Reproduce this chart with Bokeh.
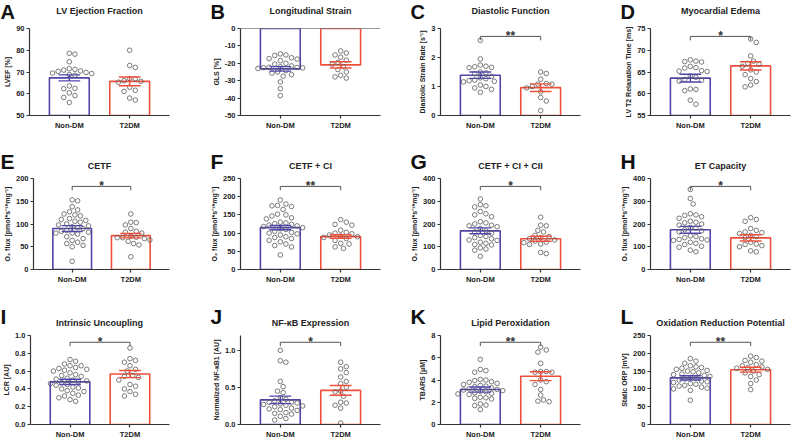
import numpy as np
from bokeh.plotting import figure
from bokeh.layouts import column, row
from bokeh.models import FixedTicker, Range1d, Label, Span
from bokeh.embed import file_html
from bokeh.resources import INLINE

FONT = "Liberation Sans"
categories = ["Non-DM", "T2DM"]
group_colors = ["#4f46a8", "#ef4f3a"]

# ---------------- data ----------------
# A  LV Ejection Fraction
lvef_nondm = [78.6, 78.2, 74.7, 71.5, 71.2, 70.9, 70.5, 70.3, 69.8, 69.5, 69.3, 68.8, 68.5,
              63.6, 62.5, 62.3, 60.4, 59.2, 58.3, 56.0]
lvef_t2dm = [80.0, 73.0, 72.1, 67.0, 66.9, 66.0, 65.7, 65.3, 63.0, 61.6, 61.1, 58.0, 57.1]
lvef_mean = [67.3, 65.7]
lvef_sem = [1.4, 2.0]

# B  Longitudinal Strain
gls_nondm = [-14.6, -15.2, -15.5, -16.8, -17.3, -17.6, -18.5, -20.0, -20.4, -21.5, -22.0, -22.3,
             -22.4, -22.5, -22.6, -23.0, -24.2, -25.0, -25.6, -26.5, -27.4, -30.7, -34.6, -38.6]
gls_t2dm = [-12.9, -14.1, -15.2, -16.5, -18.2, -19.5, -20.5, -22.0, -23.6, -25.0, -26.9, -27.8, -28.5]
gls_mean = [-23.2, -20.9]
gls_sem = [1.3, 1.8]

# C  Diastolic Function
dsr_nondm = [2.59, 1.95, 1.74, 1.70, 1.68, 1.66, 1.65, 1.50, 1.47, 1.44, 1.35, 1.30, 1.27, 1.22,
             1.20, 1.18, 1.16, 1.05, 1.00, 0.95, 0.90, 0.80]
dsr_t2dm = [1.50, 1.45, 1.25, 1.10, 1.08, 1.08, 1.00, 0.95, 0.82, 0.62, 0.50, 0.17]
dsr_mean = [1.39, 0.96]
dsr_sem = [0.11, 0.13]

# D  Myocardial Edema
t2_nondm = [67.8, 67.5, 67.4, 67.3, 66.3, 66.0, 65.9, 65.3, 65.2, 65.1, 64.1, 63.8, 63.3, 63.1,
            62.9, 61.1, 61.0, 60.7, 58.5, 57.6]
t2_t2dm = [72.6, 71.8, 68.7, 67.5, 67.0, 66.8, 66.3, 65.5, 65.0, 64.4, 63.5, 62.8, 62.0, 61.6]
t2_mean = [63.6, 66.4]
t2_sem = [0.9, 0.95]

# E  CETF
cetf_nondm = [153, 151, 138, 131, 127, 122, 120, 118, 112, 110, 108, 106, 104, 100, 98, 96, 94,
              92, 90, 86, 84, 82, 80, 80, 78, 72, 68, 64, 60, 57, 53, 50, 18]
cetf_t2dm = [122, 104, 103, 98, 90, 84, 82, 80, 73, 71, 70, 70, 68, 65, 62, 57, 54, 28]
cetf_mean = [90.0, 74.5]
cetf_sem = [6.5, 5.0]

# F  CETF + CI
ci_nondm = [191, 180, 176, 175, 173, 165, 152, 150, 147, 142, 139, 130, 128, 126, 124, 122, 120,
            118, 115, 112, 110, 105, 102, 100, 98, 95, 90, 88, 85, 80, 76, 70, 66, 62, 40]
ci_t2dm = [137, 130, 124, 122, 108, 102, 100, 98, 95, 92, 90, 88, 85, 80, 72, 70, 62, 58]
ci_mean = [115.0, 90.4]
ci_sem = [6.0, 5.0]

# G  CETF + CI + CII
cii_nondm = [310, 285, 280, 275, 255, 245, 240, 232, 210, 205, 200, 195, 192, 188, 180, 170, 165,
             160, 150, 145, 140, 135, 130, 128, 120, 115, 110, 108, 95, 90, 85, 58]
cii_t2dm = [230, 195, 192, 172, 165, 150, 145, 140, 135, 130, 125, 120, 118, 112, 110, 75, 70]
cii_mean = [170.0, 135.0]
cii_sem = [13.0, 11.0]

# H  ET Capacity
et_nondm = [352, 312, 288, 245, 240, 238, 232, 225, 212, 208, 205, 200, 195, 185, 182, 175, 170,
            165, 148, 145, 140, 135, 132, 130, 128, 120, 115, 110, 102, 98, 85, 78]
et_t2dm = [228, 220, 212, 180, 172, 165, 162, 158, 150, 145, 140, 120, 112, 110, 105, 100, 82, 78]
et_mean = [174.5, 139.0]
et_sem = [15.0, 14.0]

# I  Intrinsic Uncoupling
lcr_nondm = [0.73, 0.71, 0.68, 0.66, 0.66, 0.64, 0.63, 0.62, 0.61, 0.60, 0.58, 0.56, 0.55, 0.54,
             0.52, 0.51, 0.50, 0.49, 0.48, 0.47, 0.46, 0.45, 0.44, 0.42, 0.41, 0.40, 0.38, 0.37,
             0.35, 0.33, 0.32, 0.30, 0.28, 0.26]
lcr_t2dm = [0.86, 0.74, 0.72, 0.70, 0.66, 0.62, 0.60, 0.55, 0.54, 0.53, 0.50, 0.45, 0.43, 0.40,
            0.37, 0.34, 0.32]
lcr_mean = [0.479, 0.567]
lcr_sem = [0.03, 0.04]

# J  NF-kB Expression
nfkb_nondm = [1.00, 0.86, 0.84, 0.58, 0.51, 0.45, 0.43, 0.36, 0.34, 0.32, 0.30, 0.30, 0.29, 0.28,
              0.27, 0.26, 0.25, 0.24, 0.22, 0.21, 0.20, 0.19, 0.16, 0.15, 0.14, 0.11, 0.08, 0.06]
nfkb_t2dm = [0.84, 0.78, 0.75, 0.70, 0.64, 0.58, 0.55, 0.50, 0.45, 0.44, 0.38, 0.30, 0.29, 0.26,
             0.22, 0.02]
nfkb_mean = [0.332, 0.46]
nfkb_sem = [0.05, 0.065]

# K  Lipid Peroxidation
tbars_nondm = [5.85, 4.95, 4.85, 4.70, 4.05, 4.00, 3.95, 3.85, 3.80, 3.70, 3.60, 3.50, 3.45, 3.40,
               3.30, 3.20, 3.15, 3.10, 3.05, 3.00, 2.95, 2.85, 2.80, 2.75, 2.70, 2.45, 2.40, 2.35,
               2.30, 1.85, 1.75, 1.70, 1.35]
tbars_t2dm = [6.95, 6.70, 6.50, 5.50, 4.75, 4.75, 4.70, 4.70, 4.00, 3.85, 3.60, 3.15, 2.65, 2.20,
              2.10, 2.05]
tbars_mean = [3.14, 4.34]
tbars_sem = [0.23, 0.40]

# L  Oxidation Reduction Potential
orp_nondm = [185, 178, 172, 165, 162, 160, 158, 155, 152, 150, 148, 145, 142, 140, 138, 135, 132,
             130, 128, 125, 122, 120, 118, 115, 113, 110, 108, 105, 102, 100, 96, 68]
orp_t2dm = [192, 188, 180, 178, 175, 168, 165, 162, 160, 158, 155, 150, 145, 140, 135, 125, 115, 98]
orp_mean = [131.0, 154.0]
orp_sem = [6.0, 7.0]

O2 = "O\u2082 flux [pmol*s\u207b\u00b9*mg\u207b\u00b9]"
panels = [
    dict(letter="A", title="LV Ejection Fraction", ylabel="LVEF [%]", yr=(50, 90),
         ticks=[50, 60, 70, 80, 90], fmt="{:.0f}", groups=[lvef_nondm, lvef_t2dm],
         mean=lvef_mean, sem=lvef_sem, stars=None),
    dict(letter="B", title="Longitudinal Strain", ylabel="GLS [%]", yr=(-50, 0),
         ticks=[-50, -40, -30, -20, -10, 0], fmt="{:.0f}", groups=[gls_nondm, gls_t2dm],
         mean=gls_mean, sem=gls_sem, stars=None),
    dict(letter="C", title="Diastolic Function", ylabel="Diastolic Strain Rate [s\u207b\u00b9]",
         yr=(0, 3), ticks=[0, 1, 2, 3], fmt="{:.0f}", groups=[dsr_nondm, dsr_t2dm],
         mean=dsr_mean, sem=dsr_sem, stars="**"),
    dict(letter="D", title="Myocardial Edema", ylabel="LV T2 Relaxation Time [ms]", yr=(55, 75),
         ticks=[55, 60, 65, 70, 75], fmt="{:.0f}", groups=[t2_nondm, t2_t2dm],
         mean=t2_mean, sem=t2_sem, stars="*"),
    dict(letter="E", title="CETF", ylabel=O2, yr=(0, 200), ticks=[0, 50, 100, 150, 200],
         fmt="{:.0f}", groups=[cetf_nondm, cetf_t2dm], mean=cetf_mean, sem=cetf_sem, stars="*"),
    dict(letter="F", title="CETF + CI", ylabel=O2, yr=(0, 250), ticks=[0, 50, 100, 150, 200, 250],
         fmt="{:.0f}", groups=[ci_nondm, ci_t2dm], mean=ci_mean, sem=ci_sem, stars="**"),
    dict(letter="G", title="CETF + CI + CII", ylabel=O2, yr=(0, 400), ticks=[0, 100, 200, 300, 400],
         fmt="{:.0f}", groups=[cii_nondm, cii_t2dm], mean=cii_mean, sem=cii_sem, stars="*"),
    dict(letter="H", title="ET Capacity", ylabel=O2, yr=(0, 400), ticks=[0, 100, 200, 300, 400],
         fmt="{:.0f}", groups=[et_nondm, et_t2dm], mean=et_mean, sem=et_sem, stars="*"),
    dict(letter="I", title="Intrinsic Uncoupling", ylabel="LCR [AU]", yr=(0, 1.0),
         ticks=[0, 0.2, 0.4, 0.6, 0.8, 1.0], fmt="{:.1f}", groups=[lcr_nondm, lcr_t2dm],
         mean=lcr_mean, sem=lcr_sem, stars="*"),
    dict(letter="J", title="NF-\u03baB Expression", ylabel="Normalized NF-\u03baB1 [AU]", yr=(0, 1.2),
         ticks=[0, 0.5, 1.0], fmt="{:.1f}", groups=[nfkb_nondm, nfkb_t2dm],
         mean=nfkb_mean, sem=nfkb_sem, stars="*"),
    dict(letter="K", title="Lipid Peroxidation", ylabel="TBARS [\u03bcM]", yr=(0, 8),
         ticks=[0, 2, 4, 6, 8], fmt="{:.0f}", groups=[tbars_nondm, tbars_t2dm],
         mean=tbars_mean, sem=tbars_sem, stars="**"),
    dict(letter="L", title="Oxidation Reduction Potential", ylabel="Static ORP [mV]", yr=(0, 250),
         ticks=[0, 50, 100, 150, 200, 250], fmt="{:.0f}", groups=[orp_nondm, orp_t2dm],
         mean=orp_mean, sem=orp_sem, stars="**"),
]

# ---------------- layout ----------------
FW = 140
COLS = [(197, 29, 28), (198, 43, 15), (198, 45, 13), (199, 57, 2)]   # width, left, right
# header height, frame height, body bottom border
ROWS = [(23, 88, 16), (41, 92, 16), (44, 92, 14)]
BODY_T = 5
LETTER_FS = ["20px", "21px", "21px"]
LETTER_UP = [11.5, 12, 14.5]  # letter centre above header bottom
TITLE_UP = [13, 8, 8]         # title centre above header bottom
BRACKET_DN = [8, 8, 7]        # bracket distance below frame top (px)
XR = (0.34, 2.66)
BAR_W = 0.66
CAP = 0.18


def swarm(vals, ppu_x, ppu_y, diam=5.6, step=2.8):
    """Deterministic beeswarm offsets (data units) so circles don't overlap."""
    vals = np.asarray(vals, dtype=float)
    order = np.argsort(-vals, kind="stable")
    placed = []
    offs = np.zeros(len(vals))
    cands = [0.0]
    for j in range(1, 40):
        cands += [j * step, -j * step]
    for i in order:
        py = vals[i] * ppu_y
        for c in cands:
            if all((c - qx) ** 2 + (py - qy) ** 2 >= diam ** 2 for qx, qy in placed):
                break
        placed.append((c, py))
        offs[i] = c / ppu_x
    return offs


def style_axis(ax):
    ax.axis_line_color = "#333333"
    ax.axis_line_width = 1.2
    ax.major_tick_line_color = "#333333"
    ax.major_tick_line_width = 1.2
    ax.major_tick_in = 0
    ax.major_tick_out = 3
    ax.minor_tick_line_color = None
    ax.major_label_text_font = FONT
    ax.major_label_text_font_style = "bold"
    ax.major_label_text_font_size = "7.5px"
    ax.major_label_text_color = "#222222"
    ax.major_label_standoff = 2


def make_header(spec, ci, ri):
    W, L, R = COLS[ci]
    hh, _, _ = ROWS[ri]
    p = figure(width=W, height=hh, x_range=Range1d(0, W), y_range=Range1d(0, hh), title=None,
               x_axis_type=None, y_axis_type=None, output_backend="svg", toolbar_location=None,
               min_border=0, min_border_left=0, min_border_right=0, min_border_top=0,
               min_border_bottom=0)
    p.outline_line_color = None
    p.xgrid.visible = False
    p.ygrid.visible = False
    p.background_fill_color = "white"
    p.border_fill_color = "white"
    p.add_layout(Label(x=L + FW / 2.0, y=TITLE_UP[ri], x_units="screen", y_units="screen",
                       text=spec["title"], text_align="center", text_baseline="middle",
                       text_font=FONT, text_font_style="bold", text_font_size="9px",
                       text_color="#222222"))
    p.add_layout(Label(x=max(L - 30, 0), y=LETTER_UP[ri], x_units="screen",
                       y_units="screen", text=spec["letter"], text_align="left",
                       text_baseline="middle", text_font=FONT, text_font_style="bold",
                       text_font_size=LETTER_FS[ri], text_color="#111111"))
    return p


def make_panel(spec, ci, ri):
    W, L, R = COLS[ci]
    _, FH, B = ROWS[ri]
    y0, y1 = spec["yr"]
    p = figure(width=W, height=BODY_T + FH + B, x_range=Range1d(*XR), y_range=Range1d(y0, y1),
               output_backend="svg", toolbar_location=None,
               min_border_left=L, min_border_right=R, min_border_top=BODY_T, min_border_bottom=B)
    p.outline_line_color = None
    p.xgrid.visible = False
    p.ygrid.visible = False
    p.background_fill_color = "white"
    p.border_fill_color = "white"

    xs = [1, 2]
    base = min(max(0, y0), y1)
    p.vbar(x=xs, width=BAR_W, bottom=base, top=spec["mean"], fill_color="white",
           line_color=group_colors, line_width=1.6)
    if y1 == 0:
        p.add_layout(Span(location=0, dimension="width", line_color="#333333", line_width=1.2))

    ppu_x = FW / (XR[1] - XR[0])
    ppu_y = FH / (y1 - y0)
    for gi, vals in enumerate(spec["groups"]):
        offs = swarm(vals, ppu_x, ppu_y)
        p.scatter(x=list(xs[gi] + offs), y=vals, marker="circle", size=4.6, fill_color=None,
                  line_color="#5a5a5a", line_width=0.8)

    m = np.array(spec["mean"], dtype=float)
    s = np.array(spec["sem"], dtype=float)
    xa = np.array(xs, dtype=float)
    p.segment(x0=xa, y0=m - s, x1=xa, y1=m + s, line_color=group_colors, line_width=1.4)
    p.segment(x0=xa - CAP, y0=m + s, x1=xa + CAP, y1=m + s, line_color=group_colors, line_width=1.4)
    p.segment(x0=xa - CAP, y0=m - s, x1=xa + CAP, y1=m - s, line_color=group_colors, line_width=1.4)

    if spec["stars"]:
        lvl = y1 - BRACKET_DN[ri] / ppu_y
        drop = 4.0 / ppu_y
        p.segment(x0=[1, 1, 2], y0=[lvl, lvl, lvl], x1=[2, 1, 2], y1=[lvl, lvl - drop, lvl - drop],
                  line_color="#555555", line_width=1.0)
        p.add_layout(Label(x=1.5, y=lvl, text=spec["stars"], text_align="center",
                           text_baseline="alphabetic", text_font=FONT, text_font_style="bold",
                           text_font_size="12px", text_color="#333333"))

    style_axis(p.xaxis[0])
    style_axis(p.yaxis[0])
    p.xaxis.ticker = FixedTicker(ticks=xs)
    p.xaxis.major_label_overrides = {x: c for x, c in zip(xs, categories)}
    p.yaxis.ticker = FixedTicker(ticks=spec["ticks"])
    p.yaxis.major_label_overrides = {t: spec["fmt"].format(t) for t in spec["ticks"]}
    p.yaxis.axis_label = spec["ylabel"]
    p.yaxis.axis_label_text_font = FONT
    p.yaxis.axis_label_text_font_style = "bold"
    p.yaxis.axis_label_text_font_size = "7px"
    p.yaxis.axis_label_text_color = "#222222"
    p.yaxis.axis_label_standoff = 2
    return p


blocks = []
for ri in range(3):
    heads = [make_header(panels[ri * 4 + ci], ci, ri) for ci in range(4)]
    bodies = [make_panel(panels[ri * 4 + ci], ci, ri) for ci in range(4)]
    blocks.append(row(*heads, spacing=0))
    blocks.append(row(*bodies, spacing=0))
layout = column(*blocks, spacing=0)

open("out.html", "w").write(file_html(layout, INLINE))
